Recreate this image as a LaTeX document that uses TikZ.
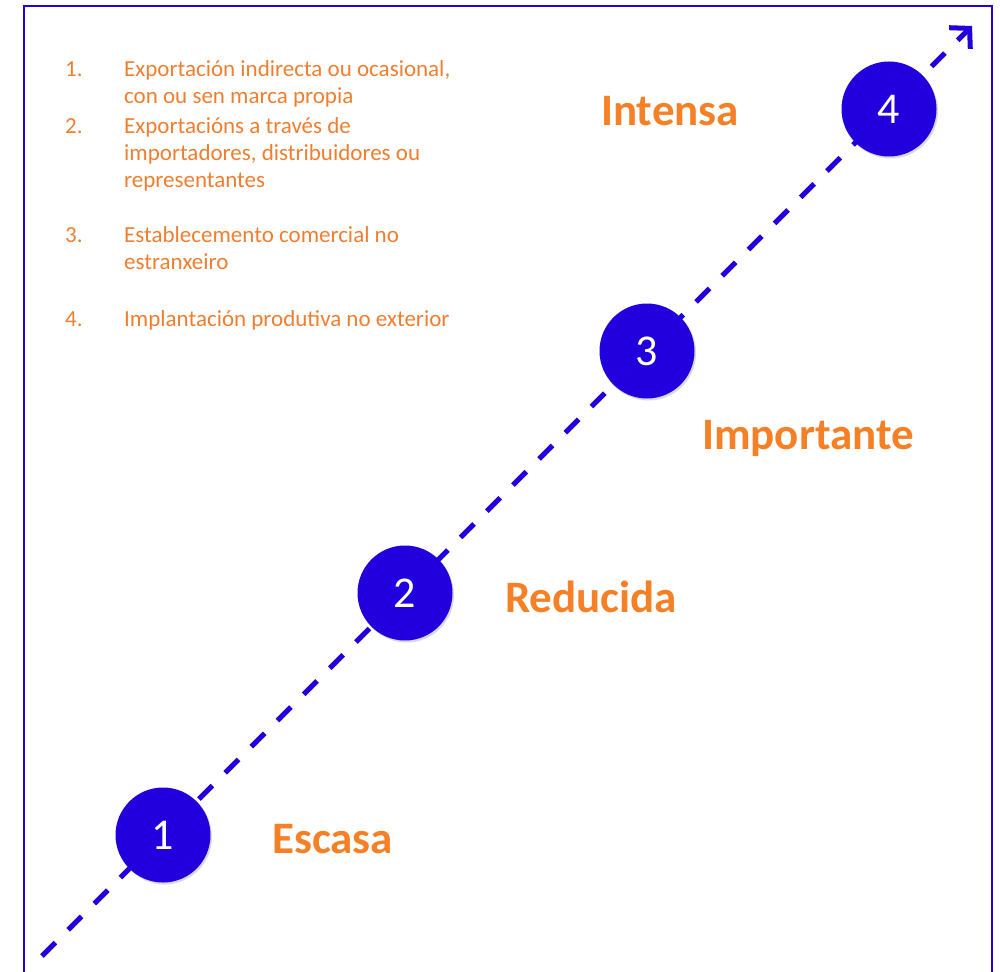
\documentclass[tikz,border=0pt]{standalone}
\usepackage{fontspec}
\setmainfont{Carlito}
\usetikzlibrary{arrows.meta}
\usetikzlibrary{shadows}

\definecolor{stepblue}{RGB}{34,0,221}
\definecolor{levelorange}{RGB}{246,128,38}
\definecolor{listorange}{RGB}{240,126,48}

\begin{document}
\begin{tikzpicture}[x=1pt, y=-1pt,
    stage/.style={circle, fill=stepblue, minimum size=95pt, inner sep=0pt, text=white,
      font=\fontsize{44}{44}\selectfont,
      drop shadow={opacity=0.3, shadow xshift=1.5pt, shadow yshift=-2pt}},
    level/.style={anchor=base west, inner sep=0pt, text=levelorange,
      font=\fontsize{45}{45}\selectfont\bfseries},
    item/.style={anchor=base west, inner sep=0pt, text=listorange, align=left,
      font=\fontsize{23}{27}\selectfont}]
      \useasboundingbox (0,0) rectangle (1000,971);

      % frame
      \draw[stepblue, line width=1.5pt] (24,975) -- (24,6);
      \draw[stepblue, line width=2pt] (23,6) -- (992,6) -- (992,975);

      % list of modes (text nodes sit on their last line)
      \node[item] (n1) at (65,77) {1.};
      \node[item] (t1) at (124,104) {Exportación indirecta ou ocasional,\\con ou sen marca propia};
      \node[item] (n2) at (65,133) {2.};
      \node[item] (t2) at (124,187) {Exportacións a través de\\importadores, distribuidores ou\\representantes};
      \node[item] (n3) at (65,242) {3.};
      \node[item] (t3) at (124,269) {Establecemento comercial no\\estranxeiro};
      \node[item] (n4) at (65,326) {4.};
      \node[item] (t4) at (124,326) {Implantación produtiva no exterior};

      % dashed axis
      \coordinate (start) at (42,956);
      \coordinate (end) at (972,26);
      \draw[stepblue, line width=5pt, dash pattern=on 19pt off 18pt,
        -{Straight Barb[length=14pt, width=30pt]}] (start) -- (end);

      % stages
      \node[stage] (c1) at (163,835) {1};
      \node[stage] (c2) at (405,593) {2};
      \node[stage] (c3) at (647,351) {3};
      \node[stage] (c4) at (889,109) {4};

      \node[level] (escasa) at (272,853) {Escasa};
      \node[level] (reducida) at (505,612) {Reducida};
      \node[level] (importante) at (702,449) {Importante};
      \node[level] (intensa) at (601,125) {Intensa};

    \end{tikzpicture}
\end{document}
